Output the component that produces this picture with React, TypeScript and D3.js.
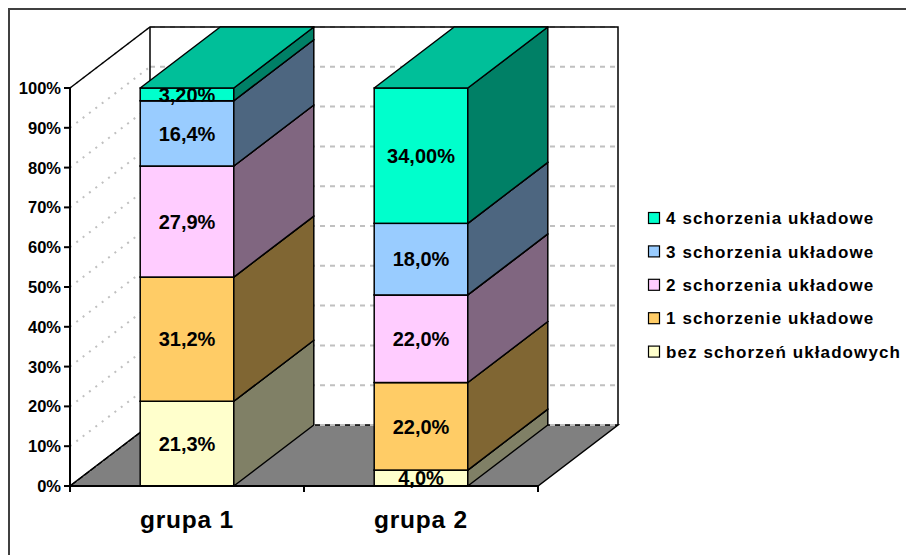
import * as d3 from 'd3';

const groups = ['grupa 1', 'grupa 2'];
const seriesNames = [
  'bez schorzeń układowych',
  '1 schorzenie układowe',
  '2 schorzenia układowe',
  '3 schorzenia układowe',
  '4 schorzenia układowe',
];
// values per series, one per group (percent)
const bezValues = [21.3, 4.0];
const jedenValues = [31.2, 22.0];
const dwaValues = [27.9, 22.0];
const trzyValues = [16.4, 18.0];
const czteryValues = [3.2, 34.0];
// labels exactly as printed on the bars
const bezLabels = ['21,3%', '4,0%'];
const jedenLabels = ['31,2%', '22,0%'];
const dwaLabels = ['27,9%', '22,0%'];
const trzyLabels = ['16,4%', '18,0%'];
const czteryLabels = ['3,20%', '34,00%'];
const yTicks = [0, 10, 20, 30, 40, 50, 60, 70, 80, 90, 100];

const seriesValues = [bezValues, jedenValues, dwaValues, trzyValues, czteryValues];
const seriesLabels = [bezLabels, jedenLabels, dwaLabels, trzyLabels, czteryLabels];
const frontColors = ['#FFFFCC', '#FFCC66', '#FFCCFF', '#99CCFF', '#00FFCC'];

const W = 906;
const H = 555;
const DX = 80; // depth offset
const DY = -61;
const FONT = '"Liberation Sans", Arial, sans-serif';

const shade = (c: string, k: number) => {
  const r = d3.rgb(c);
  return d3.rgb(r.r * k, r.g * k, r.b * k).formatHex();
};

const App = () => {
  const y = d3.scaleLinear().domain([0, 100]).range([486, 88]);
  const x = d3
    .scaleBand<string>()
    .domain(groups)
    .range([70, 538])
    .paddingInner(0.6)
    .paddingOuter(0.3);

  const x0 = 70;
  const x1 = 538;
  const y0 = y(0);
  const yTop = y(100);

  const pts = (p: number[][]) => p.map(d => d.join(',')).join(' ');

  // stack the series per group
  const stackData = groups.map((g, gi) => {
    const row: any = { group: g };
    seriesNames.forEach((s, si) => (row[s] = seriesValues[si][gi]));
    return row;
  });
  const stacked = d3.stack().keys(seriesNames)(stackData);

  return (
    <svg width={W} height={H} style={{ position: 'absolute', left: 0, top: 0, background: '#fff' }}>
      {/* outer frame */}
      <path d="M9,600 L9,9 L960,9" fill="none" stroke="#404040" strokeWidth={2} />

      {/* floor */}
      <polygon
        points={pts([[x0, y0], [x1, y0], [x1 + DX, y0 + DY], [x0 + DX, y0 + DY]])}
        fill="#808080"
        stroke="#000"
        strokeWidth={1.5}
      />

      {/* back wall gridlines */}
      {yTicks.map(t => (
        <line
          key={'bg' + t}
          x1={x0 + DX}
          x2={x1 + DX}
          y1={y(t) + DY}
          y2={y(t) + DY}
          stroke="#C0C0C0"
          strokeWidth={2}
          strokeDasharray="5,5"
        />
      ))}
      {/* side wall gridlines */}
      {yTicks.map(t => (
        <line
          key={'sg' + t}
          x1={x0}
          x2={x0 + DX}
          y1={y(t)}
          y2={y(t) + DY}
          stroke="#C0C0C0"
          strokeWidth={2}
          strokeDasharray="2,6"
        />
      ))}

      {/* wall edges */}
      <path
        d={`M${x0},${yTop} L${x0 + DX},${yTop + DY} L${x1 + DX},${yTop + DY} L${x1 + DX},${y0 + DY}`}
        fill="none"
        stroke="#000"
        strokeWidth={1.5}
      />
      <line x1={x0 + DX} x2={x0 + DX} y1={yTop + DY} y2={y0 + DY} stroke="#000" strokeWidth={1.5} />
      <line x1={x0} x2={x0 + DX} y1={y0} y2={y0 + DY} stroke="#000" strokeWidth={1.5} />

      {/* bars */}
      {groups.map((g, gi) => {
        const bx0 = x(g)!;
        const bx1 = bx0 + x.bandwidth();
        return (
          <g key={g}>
            {stacked.map((layer, si) => {
              const [v0, v1] = layer[gi];
              const ya = y(v0);
              const yb = y(v1);
              const c = frontColors[si];
              return (
                <g key={si}>
                  <rect x={bx0} y={yb} width={bx1 - bx0} height={ya - yb} fill={c} stroke="#000" strokeWidth={1.5} />
                  <polygon
                    points={pts([[bx1, ya], [bx1 + DX, ya + DY], [bx1 + DX, yb + DY], [bx1, yb]])}
                    fill={shade(c, 0.5)}
                    stroke="#000"
                    strokeWidth={1.5}
                    strokeLinejoin="round"
                  />
                  <polygon
                    points={pts([[bx0, yb], [bx1, yb], [bx1 + DX, yb + DY], [bx0 + DX, yb + DY]])}
                    fill={shade(c, 0.75)}
                    stroke="#000"
                    strokeWidth={1.5}
                    strokeLinejoin="round"
                  />
                </g>
              );
            })}
            {stacked.map((layer, si) => {
              const [v0, v1] = layer[gi];
              return (
                <text
                  key={'l' + si}
                  x={(bx0 + bx1) / 2}
                  y={(y(v0) + y(v1)) / 2}
                  dy="0.36em"
                  textAnchor="middle"
                  fontFamily={FONT}
                  fontWeight="bold"
                  fontSize={20}
                  fill="#000"
                >
                  {seriesLabels[si][gi]}
                </text>
              );
            })}
          </g>
        );
      })}

      {/* y axis */}
      <line x1={x0} x2={x0} y1={yTop} y2={y0} stroke="#000" strokeWidth={2} />
      {yTicks.map(t => (
        <g key={'yt' + t}>
          <line x1={x0 - 6} x2={x0} y1={y(t)} y2={y(t)} stroke="#000" strokeWidth={2} />
          <text
            x={x0 - 9}
            y={y(t)}
            dy="0.36em"
            textAnchor="end"
            fontFamily={FONT}
            fontWeight="bold"
            fontSize={16.5}
          >
            {t + '%'}
          </text>
        </g>
      ))}

      {/* x axis */}
      <line x1={x0} x2={x1} y1={y0} y2={y0} stroke="#000" strokeWidth={2} />
      {[x0, x(groups[1])! - (x.step() - x.bandwidth()) / 2, x1].map((tx, i) => (
        <line key={'xt' + i} x1={tx} x2={tx} y1={y0} y2={y0 + 6} stroke="#000" strokeWidth={2} />
      ))}
      {groups.map(g => (
        <text
          key={'xl' + g}
          x={x(g)! + x.bandwidth() / 2}
          y={528}
          textAnchor="middle"
          fontFamily={FONT}
          fontWeight="bold"
          fontSize={24.5}
          letterSpacing={0.8}
        >
          {g}
        </text>
      ))}

      {/* legend */}
      {seriesNames
        .map((s, i) => ({ s, c: frontColors[i] }))
        .reverse()
        .map((d, i) => {
          const cy = 218 + i * 33.4;
          return (
            <g key={'lg' + i}>
              <rect x={648.5} y={cy - 5.5} width={11} height={11} fill={d.c} stroke="#000" strokeWidth={1.2} />
              <text
                x={666}
                y={cy}
                dy="0.36em"
                fontFamily={FONT}
                fontWeight="bold"
                fontSize={17}
                letterSpacing={1.1}
              >
                {d.s}
              </text>
            </g>
          );
        })}
    </svg>
  );
};

export default App;
